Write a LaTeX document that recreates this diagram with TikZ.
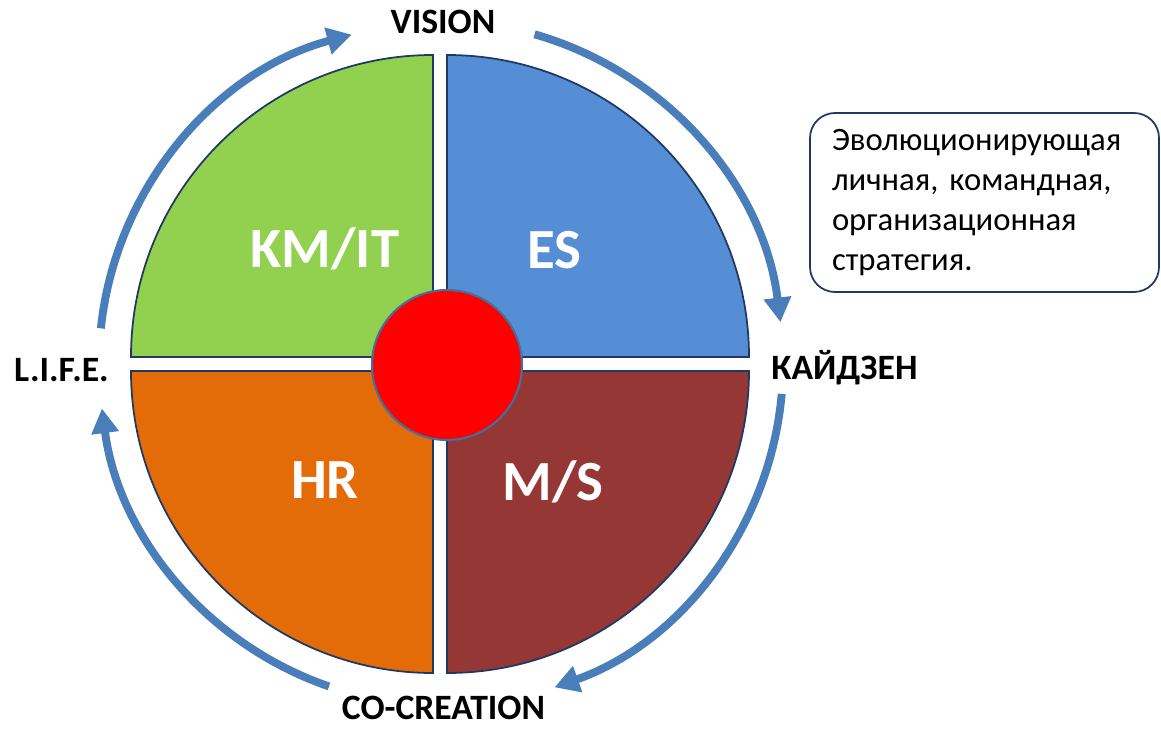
\documentclass[tikz,border=0pt]{standalone}
\usepackage{fontspec}
\setmainfont{Carlito}
\usepackage{xcolor}
\usetikzlibrary{arrows.meta,positioning,calc}

\definecolor{kmgreen}{HTML}{92D050}
\definecolor{esblue}{HTML}{558ED5}
\definecolor{hrorange}{HTML}{E36C09}
\definecolor{msred}{HTML}{953735}
\definecolor{edgenavy}{HTML}{1F3864}
\definecolor{arcblue}{HTML}{4A7EBB}
\definecolor{coreedge}{HTML}{41719C}

\begin{document}
\begin{tikzpicture}[
    quarter/.style={draw=edgenavy, line width=1pt},
    cycarrow/.style={draw=arcblue, line width=4.5pt, -{Triangle[width=15pt, length=14pt]}},
    outerlabel/.style={font=\fontsize{20.3}{24}\selectfont\bfseries, text=black},
    quarterlabel/.style={font=\fontsize{32.3}{38}\selectfont\bfseries, text=white}
]
    \useasboundingbox (-8.8,-7.32) rectangle (14.42,7.28);

    % Four quarters of the disc
    \fill[kmgreen, quarter] (-0.14,0.14) -- ++(-6.04,0) arc[start angle=180, end angle=90, radius=6.04] -- cycle;
    \fill[esblue, quarter] (0.14,0.14) -- ++(0,6.04) arc[start angle=90, end angle=0, radius=6.04] -- cycle;
    \fill[msred, quarter] (0.14,-0.14) -- ++(6.04,0) arc[start angle=0, end angle=-90, radius=6.04] -- cycle;
    \fill[hrorange, quarter] (-0.14,-0.14) -- ++(0,-6.04) arc[start angle=-90, end angle=-180, radius=6.04] -- cycle;

    % Core
    \node[circle, draw=coreedge, line width=1.2pt, fill=red, minimum size=3cm, inner sep=0pt] (core) at (0.14,-0.02) {};

    % Quarter labels
    \node[quarterlabel] (kmit) at (-2.3,2.3) {KM/IT};
    \node[quarterlabel] (es) at (2.28,2.28) {ES};
    \node[quarterlabel] (hr) at (-2.3,-2.32) {HR};
    \node[quarterlabel] (ms) at (2.26,-2.36) {M/S};

    % Cycle around the disc
    \draw[cycarrow] (174:6.82) arc[start angle=174, end angle=105, radius=6.82];
    \draw[cycarrow] (74:6.86) arc[start angle=74, end angle=7, radius=6.86];
    \draw[cycarrow] (-5:6.86) arc[start angle=-5, end angle=-70.5, radius=6.86];
    \draw[cycarrow] (251:6.82) arc[start angle=251, end angle=187.5, radius=6.82];

    % Stage labels
    \node[outerlabel] (vision) at (0.06,6.84) {VISION};
    \node[outerlabel] (kaizen) at (8.09,-0.08) {КАЙДЗЕН};
    \node[outerlabel] (cocreation) at (0.07,-6.88) {CO-CREATION};
    \node[outerlabel] (life) at (-7.57,-0.12) {L.I.F.E.};

    % Note
    \node[draw=edgenavy, line width=1pt, rounded corners=0.5cm, minimum width=6.98cm, minimum height=3.58cm,
          text width=6.1cm, align=left, font=\fontsize{18.6}{22.8}\selectfont] (strategy) at (10.89,3.23)
          {Эволюционирующая\\личная, командная,\\организационная\\стратегия.};
\end{tikzpicture}
\end{document}
